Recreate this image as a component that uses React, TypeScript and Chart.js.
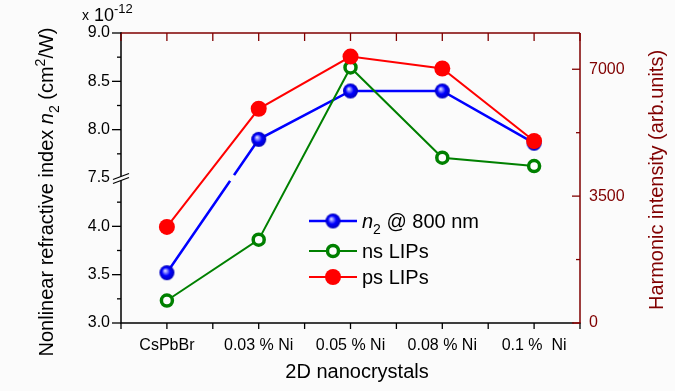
import React, { useEffect, useRef } from 'react';
import { Chart, registerables } from 'chart.js';

Chart.register(...registerables);

// ---- data ----
const categories = ['CsPbBr', '0.03 % Ni', '0.05 % Ni', '0.08 % Ni', '0.1 %  Ni'];
const n2Values = [3.52, 7.9, 8.4, 8.4, 7.86]; // x 10^-12 cm^2/W (left axis)
const nsLIPs = [620, 2300, 7050, 4560, 4330]; // harmonic intensity (right axis)
const psLIPs = [2650, 5910, 7350, 7020, 5020]; // harmonic intensity (right axis)
const leftLabelStep = 0.5;
const rightTickValues = [0, 1750, 3500, 5250, 7000];
const rightLabelStep = 3500;
const BREAK_LOW = 4.5; // axis value where the break sits
const BREAK_HIGH = 7.5; // real value shown at the break
const legendLabels = ['n2 @ 800 nm', 'ns LIPs', 'ps LIPs'];

const FONT = "'Liberation Sans', Arial, Helvetica, sans-serif";
const DARKRED = '#800000';
const BLUE = '#0000ff';
const GREEN = '#008000';
const RED = '#ff0000';
const BG = '#fbfbfb';

const toAxis = (v: number) => (v >= BREAK_HIGH ? v - (BREAK_HIGH - BREAK_LOW) : v);
const fromAxis = (a: number) => (a >= BREAK_LOW - 1e-9 ? a + (BREAK_HIGH - BREAK_LOW) : a);
const isMultiple = (v: number, step: number) => Math.abs(v / step - Math.round(v / step)) < 1e-6;

function makeSphere(r: number) {
  const c = document.createElement('canvas');
  const d = Math.ceil(r * 2) + 2;
  c.width = d;
  c.height = d;
  const g = c.getContext('2d')!;
  const cx = d / 2, cy = d / 2;
  const grad = g.createRadialGradient(cx - r * 0.25, cy - r * 0.3, 0, cx, cy, r);
  grad.addColorStop(0, '#f0f0ff');
  grad.addColorStop(0.22, '#9090ff');
  grad.addColorStop(0.55, '#0000ff');
  grad.addColorStop(1, '#0000b8');
  g.fillStyle = grad;
  g.beginPath();
  g.arc(cx, cy, r, 0, Math.PI * 2);
  g.fill();
  return c;
}

type Seg = { t: string; italic?: boolean; sub?: boolean; sup?: boolean };

function segFont(s: Seg, size: number) {
  const sz = s.sub || s.sup ? Math.round(size * 0.68) : size;
  return `${s.italic ? 'italic ' : ''}${sz}px ${FONT}`;
}

function measureRich(ctx: CanvasRenderingContext2D, segs: Seg[], size: number) {
  let w = 0;
  for (const s of segs) {
    ctx.font = segFont(s, size);
    w += ctx.measureText(s.t).width;
  }
  return w;
}

function drawRich(ctx: CanvasRenderingContext2D, segs: Seg[], x: number, y: number, size: number, color: string) {
  ctx.fillStyle = color;
  ctx.textBaseline = 'alphabetic';
  ctx.textAlign = 'left';
  let cx = x;
  for (const s of segs) {
    ctx.font = segFont(s, size);
    const dy = s.sub ? size * 0.3 : s.sup ? -size * 0.42 : 0;
    ctx.fillText(s.t, cx, y + dy);
    cx += ctx.measureText(s.t).width;
  }
}

export default function App() {
  const ref = useRef<HTMLCanvasElement | null>(null);

  useEffect(() => {
    const canvas = ref.current;
    if (!canvas) return;
    const sphere = makeSphere(7.5);
    const legendSphere = makeSphere(7.5);

    const decor = {
      id: 'decor',
      beforeDraw(chart: any) {
        const ctx = chart.ctx;
        ctx.save();
        ctx.fillStyle = BG;
        ctx.fillRect(0, 0, chart.width, chart.height);
        ctx.restore();
      },
      afterDatasetsDraw(chart: any) {
        // gap in the n2 line where it crosses the axis break
        const ctx = chart.ctx;
        const meta = chart.getDatasetMeta(2);
        const p0 = meta.data[0], p1 = meta.data[1];
        const yb = chart.scales.y.getPixelForValue(BREAK_LOW);
        if (!p0 || !p1) return;
        const t = (yb - p0.y) / (p1.y - p0.y);
        if (t <= 0 || t >= 1) return;
        const ix = p0.x + t * (p1.x - p0.x);
        const dx = p1.x - p0.x, dy = p1.y - p0.y;
        const L = Math.hypot(dx, dy);
        const ux = dx / L, uy = dy / L;
        ctx.save();
        ctx.strokeStyle = BG;
        ctx.lineWidth = 6;
        ctx.beginPath();
        ctx.moveTo(ix - ux * 3.5, yb - uy * 3.5);
        ctx.lineTo(ix + ux * 3.5, yb + uy * 3.5);
        ctx.stroke();
        ctx.restore();
      },
      afterDraw(chart: any) {
        const ctx: CanvasRenderingContext2D = chart.ctx;
        const { left, right, top, bottom } = chart.chartArea;
        const xs = chart.scales.x;
        const ys = chart.scales.y;
        const y2 = chart.scales.y2;
        ctx.save();
        ctx.lineCap = 'butt';

        // frame
        ctx.lineWidth = 1.5;
        ctx.strokeStyle = DARKRED;
        ctx.beginPath();
        ctx.moveTo(left, top);
        ctx.lineTo(right, top);
        ctx.moveTo(right, top);
        ctx.lineTo(right, bottom);
        ctx.stroke();
        ctx.strokeStyle = '#000';
        ctx.beginPath();
        ctx.moveTo(left, top - 0.75);
        ctx.lineTo(left, bottom);
        ctx.lineTo(right - 6, bottom);
        ctx.stroke();
        ctx.strokeStyle = DARKRED;
        ctx.beginPath();
        ctx.moveTo(right - 6, bottom);
        ctx.lineTo(right + 0.75, bottom);
        ctx.stroke();

        // x ticks (bottom outward, top inward)
        const p0 = xs.getPixelForTick(0);
        const half = (xs.getPixelForTick(1) - p0) / 2;
        const xTickPix: number[] = [];
        for (let i = 0; i < categories.length; i++) {
          const p = xs.getPixelForTick(i);
          xTickPix.push(p - half, p);
        }
        xTickPix.push(xs.getPixelForTick(categories.length - 1) + half);
        ctx.lineWidth = 1.3;
        for (const px of xTickPix) {
          ctx.strokeStyle = '#000';
          ctx.beginPath();
          ctx.moveTo(px, bottom);
          ctx.lineTo(px, bottom + 6);
          ctx.stroke();
          ctx.strokeStyle = DARKRED;
          ctx.beginPath();
          ctx.moveTo(px, top);
          ctx.lineTo(px, top + 8);
          ctx.stroke();
        }

        // left ticks
        ctx.strokeStyle = '#000';
        for (const tk of ys.ticks) {
          const a = tk.value;
          if (Math.abs(a - BREAK_LOW) < 1e-6) continue;
          const py = ys.getPixelForValue(a);
          const len = isMultiple(a, leftLabelStep) ? 9 : 4;
          ctx.beginPath();
          ctx.moveTo(left - len, py);
          ctx.lineTo(left, py);
          ctx.stroke();
        }

        // right ticks (inward)
        ctx.strokeStyle = DARKRED;
        for (const tk of y2.ticks) {
          const v = tk.value;
          const py = y2.getPixelForValue(v);
          const len = isMultiple(v, rightLabelStep) ? 8 : 4;
          ctx.beginPath();
          ctx.moveTo(right - len, py);
          ctx.lineTo(right, py);
          ctx.stroke();
        }

        // axis break marks
        const yb = ys.getPixelForValue(BREAK_LOW);
        const bw = 8, slope = 3;
        ctx.fillStyle = BG;
        ctx.beginPath();
        ctx.moveTo(left - bw, yb - 1.5 + slope);
        ctx.lineTo(left + bw, yb - 1.5 - slope);
        ctx.lineTo(left + bw, yb + 2.5 - slope);
        ctx.lineTo(left - bw, yb + 2.5 + slope);
        ctx.closePath();
        ctx.fill();
        ctx.strokeStyle = '#000';
        ctx.lineWidth = 1.3;
        for (const off of [-1.5, 2.5]) {
          ctx.beginPath();
          ctx.moveTo(left - bw, yb + off + slope);
          ctx.lineTo(left + bw, yb + off - slope);
          ctx.stroke();
        }

        // exponent label
        ctx.fillStyle = '#000';
        ctx.textAlign = 'left';
        ctx.textBaseline = 'alphabetic';
        ctx.font = `14px ${FONT}`;
        ctx.fillText('x', 82, 20);
        ctx.font = `18px ${FONT}`;
        ctx.fillText('10', 94, 21);
        ctx.font = `13px ${FONT}`;
        ctx.fillText('-12', 114, 13);

        // x title
        ctx.font = `20px ${FONT}`;
        ctx.textAlign = 'center';
        ctx.fillText('2D nanocrystals', 357, 378);

        // left title (rotated)
        const leftSegs: Seg[] = [
          { t: 'Nonlinear refractive index ' },
          { t: 'n', italic: true },
          { t: '2', sub: true },
          { t: ' (cm' },
          { t: '2', sup: true },
          { t: '/W)' },
        ];
        ctx.save();
        ctx.translate(53, 192);
        ctx.rotate(-Math.PI / 2);
        const lw = measureRich(ctx, leftSegs, 20);
        drawRich(ctx, leftSegs, -lw / 2, 0, 20, '#000');
        ctx.restore();

        // right title (rotated)
        ctx.save();
        ctx.translate(663, 180);
        ctx.rotate(-Math.PI / 2);
        ctx.font = `20px ${FONT}`;
        ctx.fillStyle = DARKRED;
        ctx.textAlign = 'center';
        ctx.textBaseline = 'alphabetic';
        ctx.fillText('Harmonic intensity (arb.units)', 0, 0);
        ctx.restore();

        // legend
        const rows = [221, 251, 277];
        const colors = [BLUE, GREEN, RED];
        const lx0 = 309, lx1 = 357, mx = 333, tx = 362;
        for (let i = 0; i < 3; i++) {
          const ry = rows[i];
          ctx.strokeStyle = colors[i];
          ctx.lineWidth = i === 0 ? 2.5 : 2;
          ctx.beginPath();
          ctx.moveTo(lx0, ry);
          ctx.lineTo(lx1, ry);
          ctx.stroke();
          if (i === 0) {
            ctx.drawImage(legendSphere, mx - legendSphere.width / 2, ry - legendSphere.height / 2);
          } else if (i === 1) {
            ctx.beginPath();
            ctx.arc(mx, ry, 5.5, 0, Math.PI * 2);
            ctx.fillStyle = '#fff';
            ctx.fill();
            ctx.lineWidth = 3.5;
            ctx.strokeStyle = GREEN;
            ctx.stroke();
          } else {
            ctx.beginPath();
            ctx.arc(mx, ry, 8, 0, Math.PI * 2);
            ctx.fillStyle = RED;
            ctx.fill();
          }
          const segs: Seg[] =
            i === 0
              ? [{ t: 'n', italic: true }, { t: '2', sub: true }, { t: ' @ 800 nm' }]
              : [{ t: legendLabels[i] }];
          drawRich(ctx, segs, tx, ry + 7, 20, '#000');
        }
        ctx.restore();
      },
    };

    const chart = new Chart(canvas, {
      type: 'line',
      data: {
        labels: categories,
        datasets: [
          {
            label: legendLabels[2],
            data: psLIPs,
            yAxisID: 'y2',
            borderColor: RED,
            backgroundColor: RED,
            borderWidth: 2,
            pointStyle: 'circle',
            pointRadius: 8,
            pointBackgroundColor: RED,
            pointBorderWidth: 0,
            order: 0,
          },
          {
            label: legendLabels[1],
            data: nsLIPs,
            yAxisID: 'y2',
            borderColor: GREEN,
            backgroundColor: '#fff',
            borderWidth: 2,
            pointStyle: 'circle',
            pointRadius: 5.5,
            pointBackgroundColor: '#fff',
            pointBorderColor: GREEN,
            pointBorderWidth: 3.5,
            order: 1,
          },
          {
            label: legendLabels[0],
            data: n2Values.map(toAxis),
            yAxisID: 'y',
            borderColor: BLUE,
            backgroundColor: BLUE,
            borderWidth: 2.5,
            pointStyle: sphere as any,
            pointRadius: 8,
            order: 2,
          },
        ],
      },
      options: {
        responsive: false,
        animation: false,
        devicePixelRatio: 1,
        layout: { padding: { top: 33, left: 0, right: 0, bottom: 0 } },
        plugins: { legend: { display: false }, tooltip: { enabled: false } },
        events: [],
        scales: {
          x: {
            type: 'category',
            offset: true,
            grid: { display: false, drawTicks: false },
            border: { display: false },
            ticks: {
              color: '#000',
              font: { family: FONT, size: 16 },
              padding: 13,
              autoSkip: false,
              maxRotation: 0,
            },
            afterFit: (s: any) => {
              s.height = 68;
            },
          },
          y: {
            type: 'linear',
            position: 'left',
            min: 3,
            max: 6,
            grid: { display: false, drawTicks: false },
            border: { display: false },
            ticks: {
              stepSize: 0.25,
              autoSkip: false,
              color: '#000',
              font: { family: FONT, size: 16 },
              padding: 11,
              callback: (v: any) => {
                const a = Number(v);
                return isMultiple(a, leftLabelStep) ? fromAxis(a).toFixed(1) : '';
              },
            },
            afterFit: (s: any) => {
              s.width = 121;
            },
          },
          y2: {
            type: 'linear',
            position: 'right',
            min: 0,
            max: 8000,
            grid: { display: false, drawTicks: false },
            border: { display: false },
            afterBuildTicks: (s: any) => {
              s.ticks = rightTickValues.map((v) => ({ value: v }));
            },
            ticks: {
              autoSkip: false,
              color: DARKRED,
              font: { family: FONT, size: 16 },
              padding: 9,
              callback: (v: any) => {
                const n = Number(v);
                return isMultiple(n, rightLabelStep) ? String(Math.round(n)) : '';
              },
            },
            afterFit: (s: any) => {
              s.width = 95;
            },
          },
        },
      } as any,
      plugins: [decor],
    });

    return () => chart.destroy();
  }, []);

  return (
    <div style={{ position: 'fixed', left: 0, top: 0, width: 675, height: 391, background: BG }}>
      <canvas ref={ref} width={675} height={391} style={{ display: 'block', width: 675, height: 391 }} />
    </div>
  );
}
